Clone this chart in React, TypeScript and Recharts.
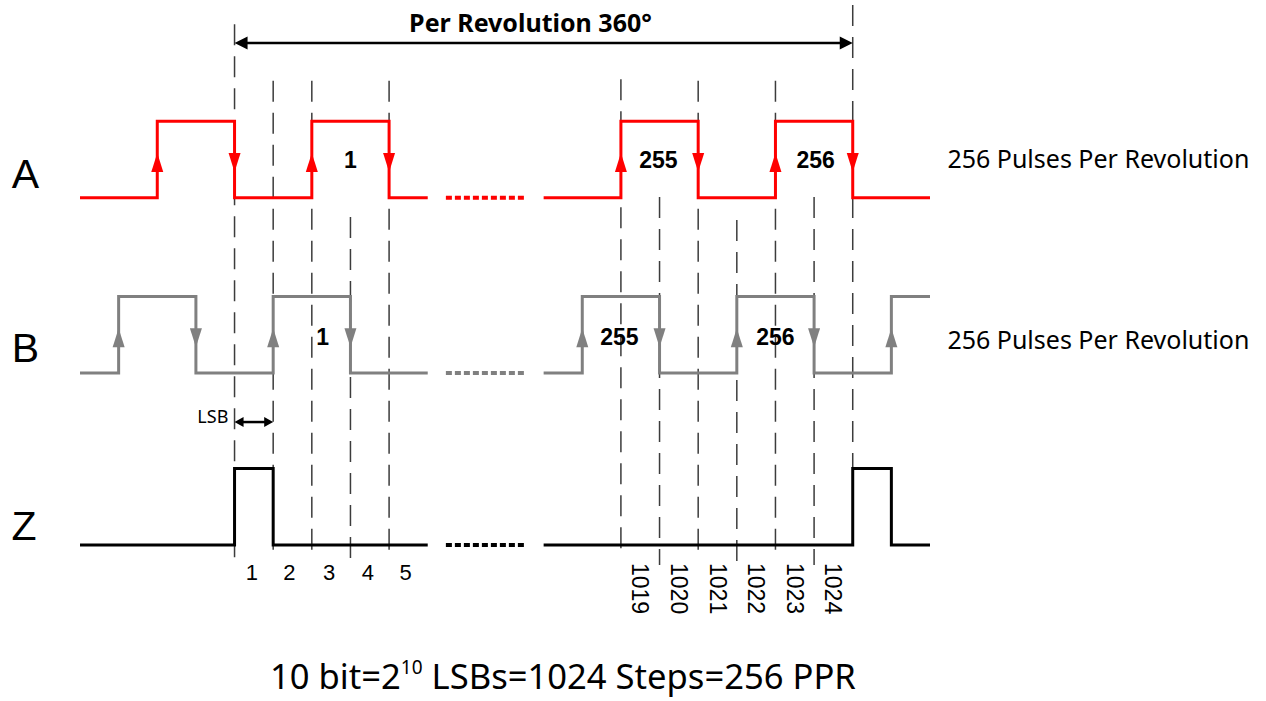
import React from 'react';
import { ComposedChart, Line, Scatter, XAxis, YAxis, ReferenceLine, ReferenceDot } from 'recharts';

// Signal levels (low, high) on the shared value axis
const A_LEVELS = [4.54, 5.54];
const B_LEVELS = [2.25, 3.25];
const Z_LEVELS = [0, 1];

// Transition times (in LSB steps) and logic states
const aLeftT = [-4, -2, 0, 2, 4, 5];
const aLeftS = [0, 1, 0, 1, 0, 0];
const aRightT = [8, 10, 12, 14, 16, 18];
const aRightS = [0, 1, 0, 1, 0, 0];
const bLeftT = [-4, -3, -1, 1, 3, 5];
const bLeftS = [0, 1, 0, 1, 0, 0];
const bRightT = [8, 9, 11, 13, 15, 17, 18];
const bRightS = [0, 1, 0, 1, 0, 1, 1];
const zLeftT = [-4, 0, 1, 5];
const zLeftS = [0, 1, 0, 0];
const zRightT = [8, 16, 17, 18];
const zRightS = [0, 1, 0, 0];
const gapT = [5.47, 7.5];

// Edge direction arrows
const aRiseT = [-2, 2, 10, 14];
const aFallT = [0, 4, 12, 16];
const bRiseT = [-3, 1, 9, 13, 17];
const bFallT = [-1, 3, 11, 15];

// Dashed step markers
const dashT = [0, 1, 2, 3, 4, 10, 11, 12, 13, 14, 15, 16];
const dashTop = [6.81, 6.07, 6.07, 4.29, 6.07, 6.09, 4.55, 6.07, 4.25, 6.07, 4.55, 7.06];
const dashBottom = [-0.235, -0.18, -0.18, -0.22, -0.2, -0.17, -0.26, -0.2, -0.26, -0.17, -0.26, 1.02];

// Labels
const stepLabels = ['1', '2', '3', '4', '5'];
const stepLabelT = [0.45, 1.42, 2.45, 3.45, 4.43];
const endStepLabels = ['1019', '1020', '1021', '1022', '1023', '1024'];
const endStepLabelT = [10.5, 11.5, 12.5, 13.5, 14.5, 15.5];
const aPulseLabels = ['1', '255', '256'];
const aPulseT = [3, 10.97, 15.04];
const bPulseLabels = ['1', '255', '256'];
const bPulseT = [2.28, 9.96, 14.0];

const RED = '#ff0000';
const GRAY = '#808080';
const BLACK = '#000000';
const DASH = '#3c3c3c';

const mk = (t: number[], s: number[], lv: number[]) => t.map((x, i) => ({ x, y: lv[s[i]] }));
const flat = (t: number[], v: number) => t.map((x) => ({ x, y: v }));
const arrows = (t: number[], lv: number[], up: boolean) =>
  t.map((x) => ({ x, y: (lv[0] + lv[1]) / 2 - 0.04, up }));

const triShape = (fill: string) => (p: any) => {
  const { cx, cy } = p;
  const up = p.payload && p.payload.up;
  const h = 9.5;
  const w = 6;
  const pts = up
    ? `${cx},${cy - h} ${cx - w},${cy + h} ${cx + w},${cy + h}`
    : `${cx},${cy + h} ${cx - w},${cy - h} ${cx + w},${cy - h}`;
  return <polygon points={pts} fill={fill} />;
};

const dblArrow = (head: number, half: number, sw: number) => (p: any) => {
  const { x1, y1, x2, y2 } = p;
  const l = Math.min(x1, x2);
  const r = Math.max(x1, x2);
  const y = (y1 + y2) / 2;
  return (
    <g>
      <line x1={l + head - 1} y1={y} x2={r - head + 1} y2={y} stroke={BLACK} strokeWidth={sw} />
      <polygon points={`${l},${y} ${l + head},${y - half} ${l + head},${y + half}`} fill={BLACK} />
      <polygon points={`${r},${y} ${r - head},${y - half} ${r - head},${y + half}`} fill={BLACK} />
    </g>
  );
};

const txt = (content: React.ReactNode, style: any) => (p: any) => (
  <text x={p.cx} y={p.cy} {...style}>
    {content}
  </text>
);

const SANS = '"Noto Sans", "Open Sans", sans-serif';
const ARIAL = '"Liberation Sans", Arial, sans-serif';

export default function App() {
  const lineCommon = { type: 'stepAfter' as const, dataKey: 'y', dot: false, isAnimationActive: false, strokeWidth: 3, strokeLinejoin: 'miter' as const };
  const dotCommon = { type: 'linear' as const, dataKey: 'y', dot: false, isAnimationActive: false, strokeWidth: 4, strokeDasharray: '6 3' };
  return (
    <div style={{ position: 'absolute', left: 0, top: 0, background: '#fff' }}>
      <ComposedChart width={1266} height={701} margin={{ top: 2, right: 336, bottom: 3, left: 80 }}>
        <XAxis type="number" dataKey="x" domain={[-4, 18]} hide allowDataOverflow />
        <YAxis type="number" dataKey="y" domain={[-2, 7.1]} hide allowDataOverflow />

        {dashT.map((x, i) => (
          <ReferenceLine
            key={`d${i}`}
            segment={[{ x, y: dashTop[i] }, { x, y: dashBottom[i] }]}
            stroke={DASH}
            strokeWidth={1.5}
            strokeDasharray="21 11"
            ifOverflow="visible"
          />
        ))}

        <Line data={mk(aLeftT, aLeftS, A_LEVELS)} stroke={RED} {...lineCommon} />
        <Line data={mk(aRightT, aRightS, A_LEVELS)} stroke={RED} {...lineCommon} />
        <Line data={flat(gapT, A_LEVELS[0])} stroke={RED} {...dotCommon} />
        <Line data={mk(bLeftT, bLeftS, B_LEVELS)} stroke={GRAY} {...lineCommon} />
        <Line data={mk(bRightT, bRightS, B_LEVELS)} stroke={GRAY} {...lineCommon} />
        <Line data={flat(gapT, B_LEVELS[0])} stroke={GRAY} {...dotCommon} />
        <Line data={mk(zLeftT, zLeftS, Z_LEVELS)} stroke={BLACK} {...lineCommon} />
        <Line data={mk(zRightT, zRightS, Z_LEVELS)} stroke={BLACK} {...lineCommon} />
        <Line data={flat(gapT, Z_LEVELS[0])} stroke={BLACK} {...dotCommon} />

        <Scatter data={[...arrows(aRiseT, A_LEVELS, true), ...arrows(aFallT, A_LEVELS, false)]} dataKey="y" shape={triShape(RED)} isAnimationActive={false} />
        <Scatter data={[...arrows(bRiseT, B_LEVELS, true), ...arrows(bFallT, B_LEVELS, false)]} dataKey="y" shape={triShape(GRAY)} isAnimationActive={false} />

        <ReferenceLine segment={[{ x: 0, y: 6.564 }, { x: 16, y: 6.564 }]} shape={dblArrow(13, 6.5, 2.5)} ifOverflow="visible" />
        <ReferenceLine segment={[{ x: 0, y: 1.608 }, { x: 1, y: 1.608 }]} shape={dblArrow(9, 5, 2.5)} ifOverflow="visible" />

        <ReferenceDot x={7.66} y={6.71} ifOverflow="visible" shape={txt('Per Revolution 360°', { textAnchor: 'middle', fontFamily: SANS, fontWeight: 700, fontSize: 25, fill: BLACK })} />
        <ReferenceDot x={-0.16} y={1.595} ifOverflow="visible" shape={txt('LSB', { textAnchor: 'end', fontFamily: SANS, fontSize: 18, fill: BLACK })} />

        <ReferenceDot x={-5.41} y={A_LEVELS[0]} ifOverflow="visible" shape={txt('A', { textAnchor: 'middle', dy: -10, fontFamily: ARIAL, fontSize: 41, fill: BLACK })} />
        <ReferenceDot x={-5.41} y={B_LEVELS[0]} ifOverflow="visible" shape={txt('B', { textAnchor: 'middle', dy: -11, fontFamily: ARIAL, fontSize: 41, fill: BLACK })} />
        <ReferenceDot x={-5.45} y={Z_LEVELS[0]} ifOverflow="visible" shape={txt('Z', { textAnchor: 'middle', dy: -5, fontFamily: ARIAL, fontSize: 41, fill: BLACK })} />

        <ReferenceDot x={18.45} y={4.93} ifOverflow="visible" shape={txt('256 Pulses Per Revolution', { textAnchor: 'start', fontFamily: SANS, fontSize: 25, fill: BLACK })} />
        <ReferenceDot x={18.45} y={2.56} ifOverflow="visible" shape={txt('256 Pulses Per Revolution', { textAnchor: 'start', fontFamily: SANS, fontSize: 25, fill: BLACK })} />

        {aPulseLabels.map((s, i) => (
          <ReferenceDot key={`ap${i}`} x={aPulseT[i]} y={4.93} ifOverflow="visible" shape={txt(s, { textAnchor: 'middle', fontFamily: ARIAL, fontWeight: 700, fontSize: 23, fill: BLACK })} />
        ))}
        {bPulseLabels.map((s, i) => (
          <ReferenceDot key={`bp${i}`} x={bPulseT[i]} y={2.615} ifOverflow="visible" shape={txt(s, { textAnchor: 'middle', fontFamily: ARIAL, fontWeight: 700, fontSize: 23, fill: BLACK })} />
        ))}

        {stepLabels.map((s, i) => (
          <ReferenceDot key={`s${i}`} x={stepLabelT[i]} y={-0.46} ifOverflow="visible" shape={txt(s, { textAnchor: 'middle', fontFamily: ARIAL, fontSize: 22, fill: BLACK })} />
        ))}
        {endStepLabels.map((s, i) => (
          <ReferenceDot
            key={`e${i}`}
            x={endStepLabelT[i]}
            y={-0.235}
            ifOverflow="visible"
            shape={(p: any) => (
              <text x={p.cx} y={p.cy} transform={`rotate(90 ${p.cx} ${p.cy})`} textAnchor="start" dominantBaseline="central" fontFamily={ARIAL} fontSize={23} fill={BLACK}>
                {s}
              </text>
            )}
          />
        ))}

        <ReferenceDot
          x={8.5}
          y={-1.88}
          ifOverflow="visible"
          shape={(p: any) => (
            <text x={p.cx} y={p.cy} textAnchor="middle" fontFamily={SANS} fontSize={34.6} fill={BLACK}>
              10 bit=2
              <tspan fontSize={19} dy={-15}>10</tspan>
              <tspan dy={15}> LSBs=1024 Steps=256 PPR</tspan>
            </text>
          )}
        />
      </ComposedChart>
    </div>
  );
}
